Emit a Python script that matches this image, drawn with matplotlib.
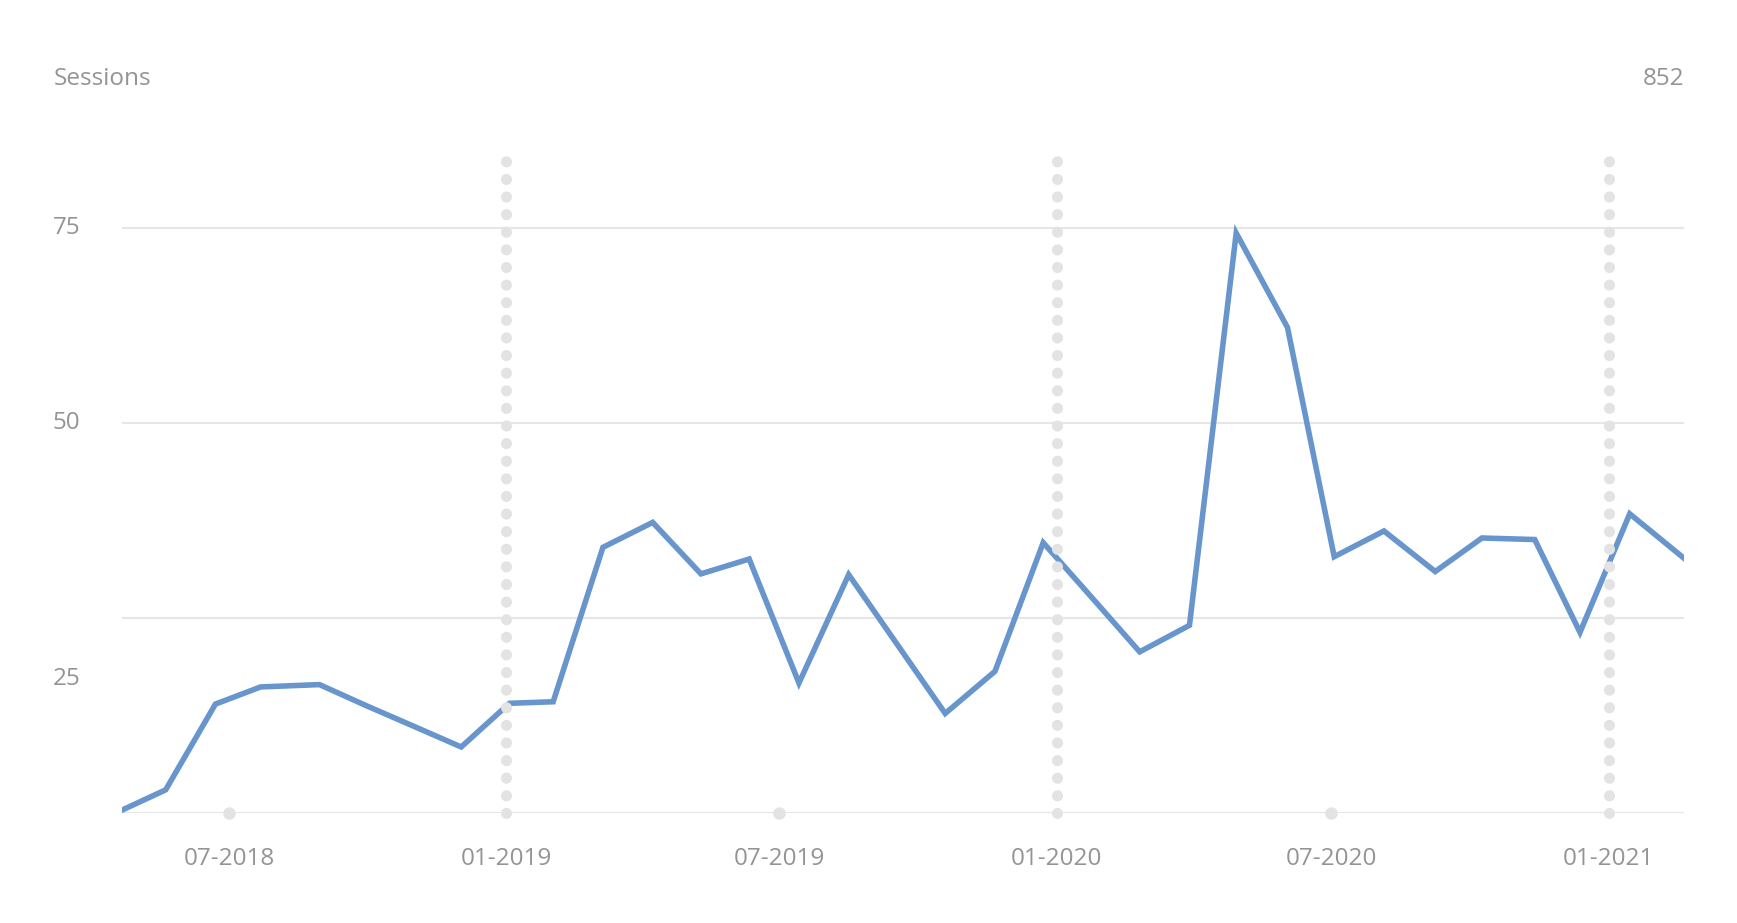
import matplotlib.pyplot as plt
import matplotlib.transforms as mtransforms
import pandas as pd

# Data (monthly-ish session counts)
dates = ['2018-04-21', '2018-05-20', '2018-06-22', '2018-07-22', '2018-08-30', '2018-09-30',
         '2018-10-31', '2018-12-02', '2019-01-03', '2019-02-01', '2019-03-06', '2019-04-08',
         '2019-05-10', '2019-06-11', '2019-07-14', '2019-08-16', '2019-09-17', '2019-10-19',
         '2019-11-21', '2019-12-23', '2020-01-25', '2020-02-25', '2020-03-29', '2020-04-29',
         '2020-06-02', '2020-07-03', '2020-08-05', '2020-09-08', '2020-10-09', '2020-11-13',
         '2020-12-13', '2021-01-15', '2021-02-20']
sessions = [0.4, 3.0, 14.0, 16.2, 16.5, 13.8, 11.2, 8.5, 14.1, 14.3, 34.1, 37.3,
            30.7, 32.6, 16.7, 30.6, 21.7, 12.8, 18.2, 34.7, 27.5, 20.7, 24.1, 74.4,
            62.3, 32.9, 36.2, 31.0, 35.3, 35.1, 23.2, 38.4, 32.7]
total = 852

tick_dates = ['2018-07-01', '2019-01-01', '2019-07-01', '2020-01-01', '2020-07-01', '2021-01-01']
tick_labels = ['07-2018', '01-2019', '07-2019', '01-2020', '07-2020', '01-2021']
year_starts = ['2019-01-01', '2020-01-01', '2021-01-01']
mid_years = ['2018-07-01', '2019-07-01', '2020-07-01']
y_labels = {'75': 75, '50': 50, '25': 17.2}

x = pd.to_datetime(dates)
line_color = '#6795cc'
grid_color = '#e6e6e6'
dot_color = '#e3e3e3'
text_color = '#949494'
font = 'Open Sans'
fs = 17.5

fig = plt.figure(figsize=(17.37, 9.23), dpi=100)
ax = fig.add_axes([0.0702, 0.1189, 0.8993, 0.7046])

ax.plot(x, sessions, color=line_color, lw=4, solid_joinstyle='miter', zorder=3)

# dotted guides at each January, single dot at each July
for d in pd.to_datetime(year_starts):
    ax.plot([d, d], [0, 84.0], color=dot_color, lw=8, linestyle=(0, (0.01, 1.575)),
            dash_capstyle='round', zorder=4, clip_on=False)
for d in pd.to_datetime(mid_years):
    ax.plot([d], [0], 'o', color=dot_color, ms=8, zorder=4, clip_on=False)

ax.set_xlim(x[0], x[-1])
ax.set_ylim(0, 83.4)
ax.set_yticks([0, 25, 50, 75])
ax.yaxis.grid(True, color=grid_color, lw=1.5)
ax.set_axisbelow(True)
ax.tick_params(axis='y', length=0, labelleft=False)
ax.set_xticks(pd.to_datetime(tick_dates))
ax.set_xticklabels(tick_labels, family=font, fontsize=fs, color=text_color)
ax.tick_params(axis='x', length=0, pad=24)
for s in ax.spines.values():
    s.set_visible(False)

trans = mtransforms.blended_transform_factory(fig.transFigure, ax.transData)
for lab, yv in y_labels.items():
    ax.text(0.0305, yv, lab, transform=trans, ha='left', va='center',
            family=font, fontsize=fs, color=text_color)

fig.text(0.031, 0.914, 'Sessions', ha='left', va='center', family=font, fontsize=fs,
         color=text_color)
fig.text(0.9695, 0.914, str(total), ha='right', va='center', family=font, fontsize=fs,
         color=text_color)

fig.savefig('out.png', dpi=100)
